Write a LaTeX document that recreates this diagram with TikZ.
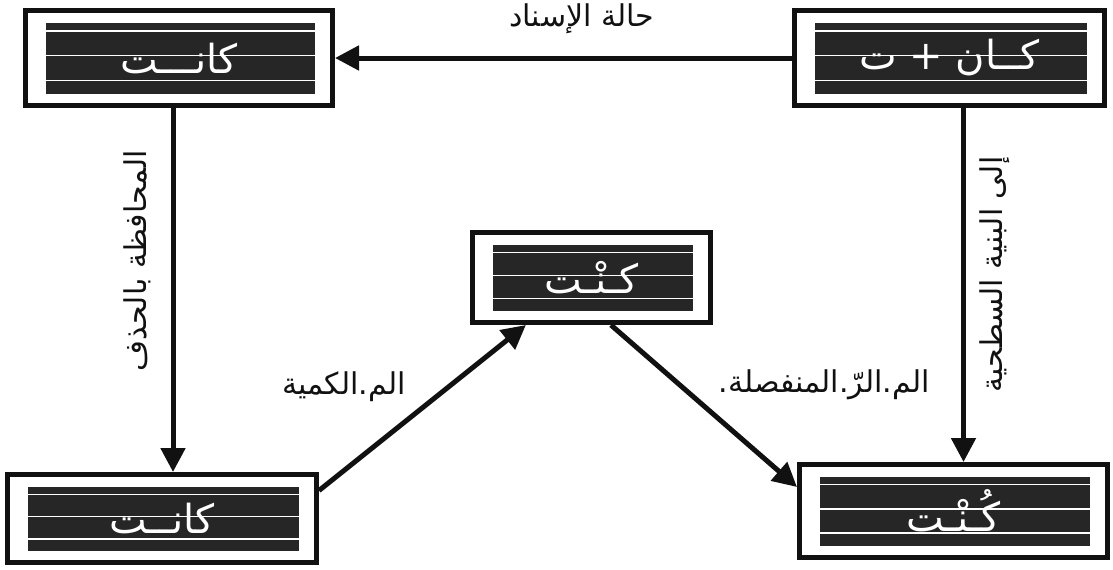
\documentclass[tikz,border=0pt]{standalone}
\usepackage{fontspec}
\newfontfamily\arabicfont[Script=Arabic]{DejaVu Sans}
\TeXXeTstate=1
\usetikzlibrary{positioning,arrows.meta,calc}
\definecolor{cInk}{HTML}{111111}
\definecolor{cPanel}{HTML}{262626}

\begin{document}
\begin{tikzpicture}[x=0.5pt,y=-0.5pt,
  cell/.style={draw=cInk,line width=2.5pt,fill=white,text=white,
    font=\arabicfont\fontsize{20}{24}\selectfont,
    path picture={
      \coordinate (pp-a) at ([shift={(10pt,-6pt)}]path picture bounding box.north west);
      \coordinate (pp-b) at ([shift={(-9pt,6pt)}]path picture bounding box.south east);
      \fill[cPanel] (pp-a) rectangle (pp-b);
      \foreach \f in {0.12,0.47,0.82}
        \draw[white,line width=0.6pt] ($(pp-a)!\f!(pp-a |- pp-b)$) -- ($(pp-b |- pp-a)!\f!(pp-b)$);
    }},
  lab/.style={font=\arabicfont\fontsize{15}{18}\selectfont,text=cInk,inner sep=2pt},
  ar/.style={-{Triangle[length=12pt,width=12pt]},line width=2.5pt,cInk}]
  \useasboundingbox (0,0) rectangle (1113,569);
  % top row
  \node[cell,minimum width=153.5pt,minimum height=47.5pt] (kanat) at (179,58) {\beginR كانـــت\endR};
  \node[cell,minimum width=155pt,minimum height=47.5pt] (kanT) at (949.5,58) {\beginR كــان + ت\endR};
  % middle
  \node[cell,minimum width=119pt,minimum height=45pt] (kunt) at (591.5,277.5) {\beginR كـنْـت\endR};
  % bottom row
  \node[cell,minimum width=154.5pt,minimum height=44pt] (kanat2) at (162,518.5) {\beginR كانــت\endR};
  \node[cell,minimum width=154pt,minimum height=46.5pt] (kunt2) at (953.5,511) {\beginR كُـنْـت\endR};
  % connectors
  \draw[ar] (kanT.west) -- node[lab,pos=0.46,above=9pt] (isnad) {\beginR حالة الإسناد\endR} (kanat.east);
  \draw[ar] ([xshift=-3pt]kanat.south) -- node[lab,pos=0.42,rotate=90,anchor=south,inner sep=10pt] (hadhf) {\beginR المحافظة بالحذف\endR} ([xshift=-3pt]kanat.south |- kanat2.north);
  \draw[ar] ([xshift=7pt]kanT.south) -- node[lab,pos=0.47,rotate=90,anchor=north,inner sep=7pt] (sathiya) {\beginR إلى البنية السطحية\endR} ([xshift=7pt]kanT.south |- kunt2.north);
  \draw[ar] ([yshift=14pt]kanat2.east) -- node[lab,pos=0.5,anchor=south east,xshift=-5pt] (kammiya) {\beginR الم.الكمية\endR} ($(kunt.south west)!0.23!(kunt.south east)$);
  \draw[ar] ($(kunt.south west)!0.58!(kunt.south east)$) -- node[lab,pos=0.5,anchor=south west,xshift=4pt] (munfasila) {\beginR الم.الرّ.المنفصلة.\endR} ([yshift=12pt]kunt2.west);
\end{tikzpicture}
\end{document}
